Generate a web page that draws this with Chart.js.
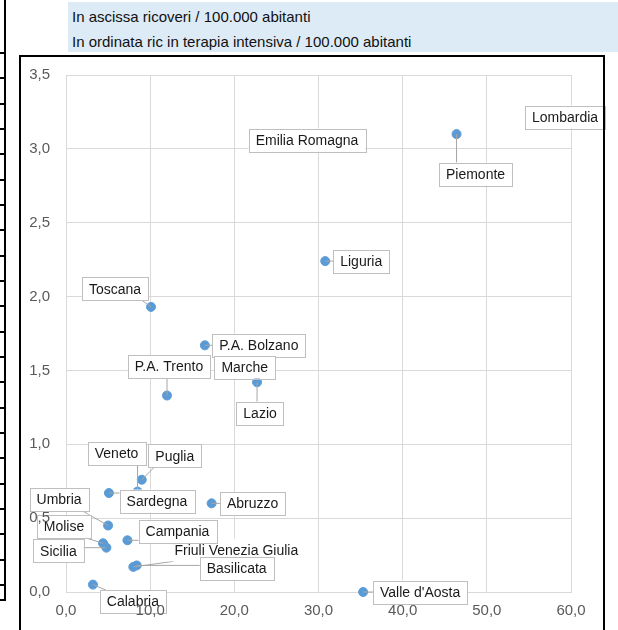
<!DOCTYPE html>
<html>
<head>
<meta charset="utf-8">
<script src="https://cdn.jsdelivr.net/npm/chart.js@4/dist/chart.umd.min.js"></script>
<style>
  html, body { margin: 0; padding: 0; background: #ffffff; }
  body { width: 618px; height: 630px; position: relative; overflow: hidden; font-family: "Liberation Sans", Arial, sans-serif; }
  #titlebox { position: absolute; left: 68px; top: 2px; width: 550px; height: 50px; background: #DDEBF7; }
  #titlebox div { position: absolute; left: 4px; font-size: 15px; color: #111; white-space: nowrap; }
  #frame { position: absolute; left: 19px; top: 55px; width: 582px; height: 600px; border: 2px solid #000; pointer-events: none; z-index: 3; }
  #leftdeco { position: absolute; left: 0; top: 0; width: 8px; height: 630px; }
  #chart { position: absolute; left: 0; top: 0; z-index: 2; }
</style>
</head>
<body>
<div id="leftdeco"></div>
<div id="titlebox">
  <div style="top:6px;">In ascissa ricoveri / 100.000 abitanti</div>
  <div style="top:31px;">In ordinata ric in terapia intensiva / 100.000 abitanti</div>
</div>
<canvas id="chart" width="618" height="630"></canvas>
<div id="frame"></div>
<script>
// ---- DATA ----
const regioni = ['Piemonte', "Valle d'Aosta", 'Lombardia', 'P.A. Bolzano', 'P.A. Trento', 'Veneto',
  'Friuli Venezia Giulia', 'Liguria', 'Emilia Romagna', 'Toscana', 'Umbria', 'Marche', 'Lazio',
  'Abruzzo', 'Molise', 'Campania', 'Puglia', 'Basilicata', 'Calabria', 'Sicilia', 'Sardegna'];
// x: ricoveri / 100.000 abitanti
const ricoveri = [46.4, 35.3, 80.0, 16.5, 12.0, 8.5,
  8.0, 30.8, 62.0, 10.1, 5.0, 45.0, 22.7,
  17.3, 4.4, 7.3, 9.0, 8.4, 3.2, 4.8, 5.1];
// y: ricoveri in terapia intensiva / 100.000 abitanti
const terapiaIntensiva = [3.10, 0.00, 10.0, 1.67, 1.33, 0.68,
  0.17, 2.24, 5.8, 1.93, 0.45, 7.5, 1.42,
  0.60, 0.33, 0.35, 0.76, 0.18, 0.05, 0.30, 0.67];
const xTickLabels = ['0,0', '10,0', '20,0', '30,0', '40,0', '50,0', '60,0'];
const yTickLabels = ['0,0', '0,5', '1,0', '1,5', '2,0', '2,5', '3,0', '3,5'];

// ---- label placement (pixel offsets of label centre from its point) ----
const labelOffsets = {
  'Piemonte': [19, 40], "Valle d'Aosta": [57, 0], 'Lombardia': [-6, 42], 'P.A. Bolzano': [54, 0],
  'P.A. Trento': [2, -29], 'Veneto': [-21, -38], 'Friuli Venezia Giulia': [103, -17], 'Liguria': [36, 0],
  'Emilia Romagna': [-264, 65], 'Toscana': [-36, -18], 'Umbria': [-49, -26], 'Marche': [-200, 292],
  'Lazio': [3, 31], 'Abruzzo': [41, 0], 'Molise': [-39, -17], 'Campania': [50, -9], 'Puglia': [33, -24],
  'Basilicata': [100, 3], 'Calabria': [40, 17], 'Sicilia': [-48, 3], 'Sardegna': [48, 8]
};
const noBorderLabels = ['Friuli Venezia Giulia'];

// left spreadsheet-like decoration
(function () {
  const d = document.getElementById('leftdeco');
  let html = '<div style="position:absolute;left:4px;top:0;width:2px;height:600px;background:#000"></div>';
  for (let k = 0; k <= 21; k++) {
    const y = Math.round(52 + k * 25.33);
    html += '<div style="position:absolute;left:0;top:' + y + 'px;width:6px;height:1.5px;background:#000"></div>';
  }
  html += '<div style="position:absolute;left:0;top:599px;width:6px;height:1.5px;background:#000"></div>';
  d.innerHTML = html;
})();

const points = regioni.map((r, i) => ({ x: ricoveri[i], y: terapiaIntensiva[i], label: r }));
const tickFont = '15px "Liberation Sans", Arial, sans-serif';

const labelPlugin = {
  id: 'dataLabels',
  afterDraw(chart) {
    const ctx = chart.ctx;
    const area = chart.chartArea;
    const xs = chart.scales.x, ys = chart.scales.y;
    ctx.save();
    ctx.font = '14px "Liberation Sans", Arial, sans-serif';
    const boxes = points.map(p => {
      const inRange = p.x >= xs.min && p.x <= xs.max && p.y >= ys.min && p.y <= ys.max;
      let px = xs.getPixelForValue(p.x), py = ys.getPixelForValue(p.y);
      px = Math.min(Math.max(px, area.left), area.right);
      py = Math.min(Math.max(py, area.top), area.bottom);
      const off = labelOffsets[p.label] || [0, -20];
      const cx = px + off[0], cy = py + off[1];
      const w = ctx.measureText(p.label).width + 14, h = 23;
      return { p, inRange, px, py, cx, cy, w, h, l: cx - w / 2, t: cy - h / 2 };
    });
    // leader lines
    ctx.strokeStyle = '#A6A6A6';
    ctx.lineWidth = 1;
    boxes.forEach(b => {
      if (!b.inRange) return;
      const tx = Math.min(Math.max(b.px, b.l + 6), b.l + b.w - 6);
      const ty = Math.min(Math.max(b.py, b.t), b.t + b.h);
      const dist = Math.hypot(tx - b.px, ty - b.py);
      if (dist < 8) return;
      ctx.beginPath();
      ctx.moveTo(b.px, b.py);
      ctx.lineTo(tx, ty);
      ctx.stroke();
    });
    // boxes + text
    boxes.forEach(b => {
      ctx.fillStyle = '#ffffff';
      ctx.fillRect(b.l, b.t, b.w, b.h);
      if (!noBorderLabels.includes(b.p.label)) {
        ctx.strokeStyle = '#BFBFBF';
        ctx.strokeRect(Math.round(b.l) + 0.5, Math.round(b.t) + 0.5, Math.round(b.w), Math.round(b.h));
      }
      ctx.fillStyle = '#1a1a1a';
      ctx.textAlign = 'center';
      ctx.textBaseline = 'middle';
      ctx.fillText(b.p.label, b.cx, b.cy + 1);
    });
    // axis tick labels stay on top of the data labels (as in the original)
    ctx.font = tickFont;
    ctx.fillStyle = '#595959';
    ctx.textAlign = 'right';
    ctx.textBaseline = 'middle';
    ys.ticks.forEach((t, i) => {
      ctx.fillText(yTickLabels[i], area.left - 16, ys.getPixelForValue(t.value));
    });
    ctx.textAlign = 'center';
    ctx.textBaseline = 'top';
    xs.ticks.forEach((t, i) => {
      ctx.fillText(xTickLabels[i], xs.getPixelForValue(t.value), area.bottom + 11);
    });
    ctx.restore();
  }
};

new Chart(document.getElementById('chart'), {
  type: 'scatter',
  data: {
    datasets: [{
      data: points,
      backgroundColor: '#5B9BD5',
      borderColor: '#5B9BD5',
      borderWidth: 1,
      pointRadius: 4.5,
      clip: false
    }]
  },
  options: {
    responsive: false,
    devicePixelRatio: 1,
    animation: false,
    layout: { padding: { left: 0, top: 75, right: 47, bottom: 0 } },
    plugins: { legend: { display: false }, tooltip: { enabled: false }, title: { display: false } },
    scales: {
      x: {
        type: 'linear', min: 0, max: 60,
        ticks: {
          stepSize: 10, padding: 11, color: 'rgba(0,0,0,0)',
          font: { family: '"Liberation Sans", Arial, sans-serif', size: 15 },
          callback: (v, i) => xTickLabels[i]
        },
        grid: { color: '#D9D9D9', lineWidth: 1, drawTicks: false },
        border: { color: '#D9D9D9' },
        afterFit: s => { s.height = 38; }
      },
      y: {
        type: 'linear', min: 0, max: 3.5,
        ticks: {
          stepSize: 0.5, padding: 16, color: 'rgba(0,0,0,0)',
          font: { family: '"Liberation Sans", Arial, sans-serif', size: 15 },
          callback: (v, i) => yTickLabels[i]
        },
        grid: { color: '#D9D9D9', lineWidth: 1, drawTicks: false },
        border: { color: '#D9D9D9' },
        afterFit: s => { s.width = 66; }
      }
    }
  },
  plugins: [labelPlugin]
});
</script>
</body>
</html>
